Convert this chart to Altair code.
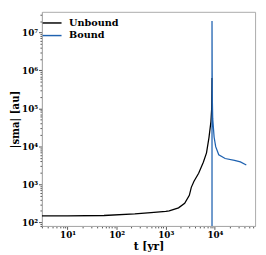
import altair as alt
import pandas as pd

unbound_t = [3, 10, 55, 234, 500, 1000, 1175, 1820, 2427, 3020, 3311, 3758, 4677, 5821, 6761, 7586, 8318, 8610, 8750]
unbound_sma = [148, 148, 151, 166, 180, 195, 200, 240, 316, 513, 832, 1202, 1950, 3800, 6760, 17000, 44700, 100000, 630000]

bound_t = [8750, 8750, 8810, 8900, 9040, 9660, 10400, 12000, 16200, 25100, 33100, 43700]
bound_sma = [50, 2.0e7, 1.0e6, 1.5e5, 53700, 17400, 9800, 6030, 4790, 4270, 3890, 3240]

x_major = [10, 100, 1000, 10000]
y_major = [100, 1000, 10000, 100000, 1000000, 10000000]
sup = {1: "¹", 2: "²", 3: "³", 4: "⁴", 5: "⁵", 6: "⁶", 7: "⁷"}

rows = []
for i, (t, s) in enumerate(zip(unbound_t, unbound_sma)):
    rows.append({"t": t, "sma": s, "kind": "Unbound", "o": i})
for i, (t, s) in enumerate(zip(bound_t, bound_sma)):
    rows.append({"t": t, "sma": s, "kind": "Bound", "o": i})
df = pd.DataFrame(rows)


def minor_vals(lo, hi):
    vals = []
    d = lo
    while d < hi:
        for m in range(1, 10):
            vals.append(d * m)
        d *= 10
    return vals


def label_expr(majors):
    parts = []
    for v in majors:
        e = len(str(int(v))) - 1
        parts.append(f"datum.value == {v} ? '10{sup[e]}'")
    return " : ".join(parts) + " : ''"


def tick_size(majors):
    test = " || ".join(f"datum.value == {v}" for v in majors)
    return {"condition": {"test": test, "value": 3.5}, "value": 2}


FONT = "DejaVu Serif"
BLUE = "#1f62b0"

x_ticks = [v for v in minor_vals(1, 100000) if 3 <= v <= 66000]
y_ticks = [v for v in minor_vals(10, 1e8) if 80 <= v <= 3.5e7]

common = dict(grid=False, labelFont=FONT, labelFontWeight="bold", labelFontSize=9,
              titleFont=FONT, titleFontWeight="bold", tickColor="#555",
              domainColor="#aaa", labelColor="black", titleColor="black",
              labelFlush=False, labelOverlap=False)

chart = alt.Chart(df).mark_line(strokeWidth=1.3, clip=True).encode(
    x=alt.X("t:Q", scale=alt.Scale(type="log", domain=[3, 66000], nice=False),
            axis=alt.Axis(values=x_ticks, labelExpr=label_expr(x_major),
                          tickSize=tick_size(x_major), title="t [yr]",
                          titleFontSize=11, labelPadding=1, titlePadding=2, **common)),
    y=alt.Y("sma:Q", scale=alt.Scale(type="log", domain=[80, 3.5e7], nice=False),
            axis=alt.Axis(values=y_ticks, labelExpr=label_expr(y_major),
                          tickSize=tick_size(y_major), title="|sma| [au]",
                          titleFontSize=10.5, labelPadding=1, titlePadding=1, **common)),
    color=alt.Color("kind:N", scale=alt.Scale(domain=["Unbound", "Bound"], range=["black", BLUE]),
                    legend=alt.Legend(title=None, orient="none", legendX=3, legendY=4,
                                      symbolType="M-1.5,0H1.5",
                                      symbolStrokeWidth=1.5, symbolSize=169, labelOffset=10,
                                      labelFont=FONT, labelFontWeight="bold", labelFontSize=10,
                                      labelColor="black", rowPadding=0)),
    order="o:Q",
).properties(
    width=220, height=221,
    autosize=alt.AutoSizeParams(type="none"),
    padding={"left": 35, "top": 0, "right": 3, "bottom": 26},
).configure_view(stroke="#aaa", strokeWidth=1)

chart.save("out.html", embed_options={"renderer": "svg", "actions": False})
